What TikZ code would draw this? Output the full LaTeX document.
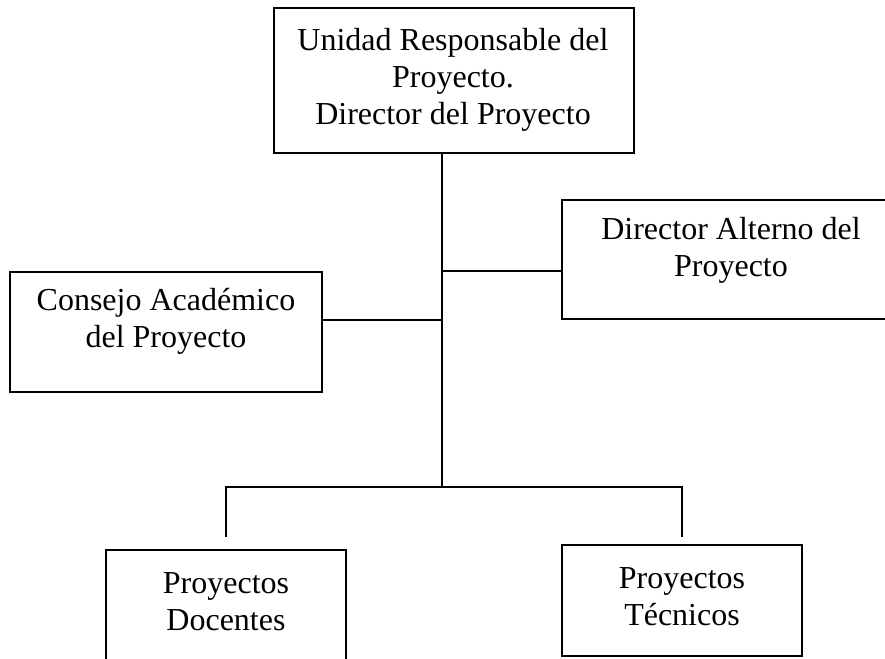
\documentclass[tikz,border=0pt]{standalone}
\usepackage{fontspec}
\setmainfont{Liberation Serif}
\begin{document}
\begin{tikzpicture}[x=1pt,y=-1pt,
  box/.style={draw=black,line width=1.5pt,rectangle,inner sep=0pt},
  lbl/.style={align=center,inner sep=0pt,font=\fontsize{32}{37}\selectfont},
  conn/.style={draw=black,line width=1.5pt}]
\useasboundingbox (0,0) rectangle (885,658);
\clip (0,0) rectangle (885,658);
% boxes
\node[box,minimum width=360pt,minimum height=145pt] (top) at (454,80.5) {};
\node[box,minimum width=338pt,minimum height=119pt] (alt) at (731,259.5) {};
\node[box,minimum width=312pt,minimum height=120pt] (cons) at (166,332) {};
\node[box,minimum width=240pt,minimum height=118pt] (doc) at (226,609) {};
\node[box,minimum width=240pt,minimum height=111pt] (tec) at (682,600.5) {};
% labels
\node[lbl] (ttop) at (453,80) {Unidad Responsable del\\Proyecto.\\Director del Proyecto};
\node[lbl] (talt) at (731,250.5) {Director Alterno del\\Proyecto};
\node[lbl] (tcons) at (166,321.5) {Consejo Académico\\del Proyecto};
\node[lbl] (tdoc) at (226,601.5) {Proyectos\\Docentes};
\node[lbl] (ttec) at (682,596.5) {Proyectos\\Técnicos};
% junctions
\coordinate (j1) at (442,271);
\coordinate (j2) at (442,320);
\coordinate (j3) at (442,487);
\coordinate (dEnd) at (226,537);
\coordinate (tEnd) at (682,537);
% connectors
\draw[conn] (j3 |- top.south) -- (j3);
\draw[conn] (j1) -- (j1 -| alt.west);
\draw[conn] (j2) -- (j2 -| cons.east);
\draw[conn] (dEnd) -- (dEnd |- j3) -- (tEnd |- j3) -- (tEnd);
\end{tikzpicture}
\end{document}
